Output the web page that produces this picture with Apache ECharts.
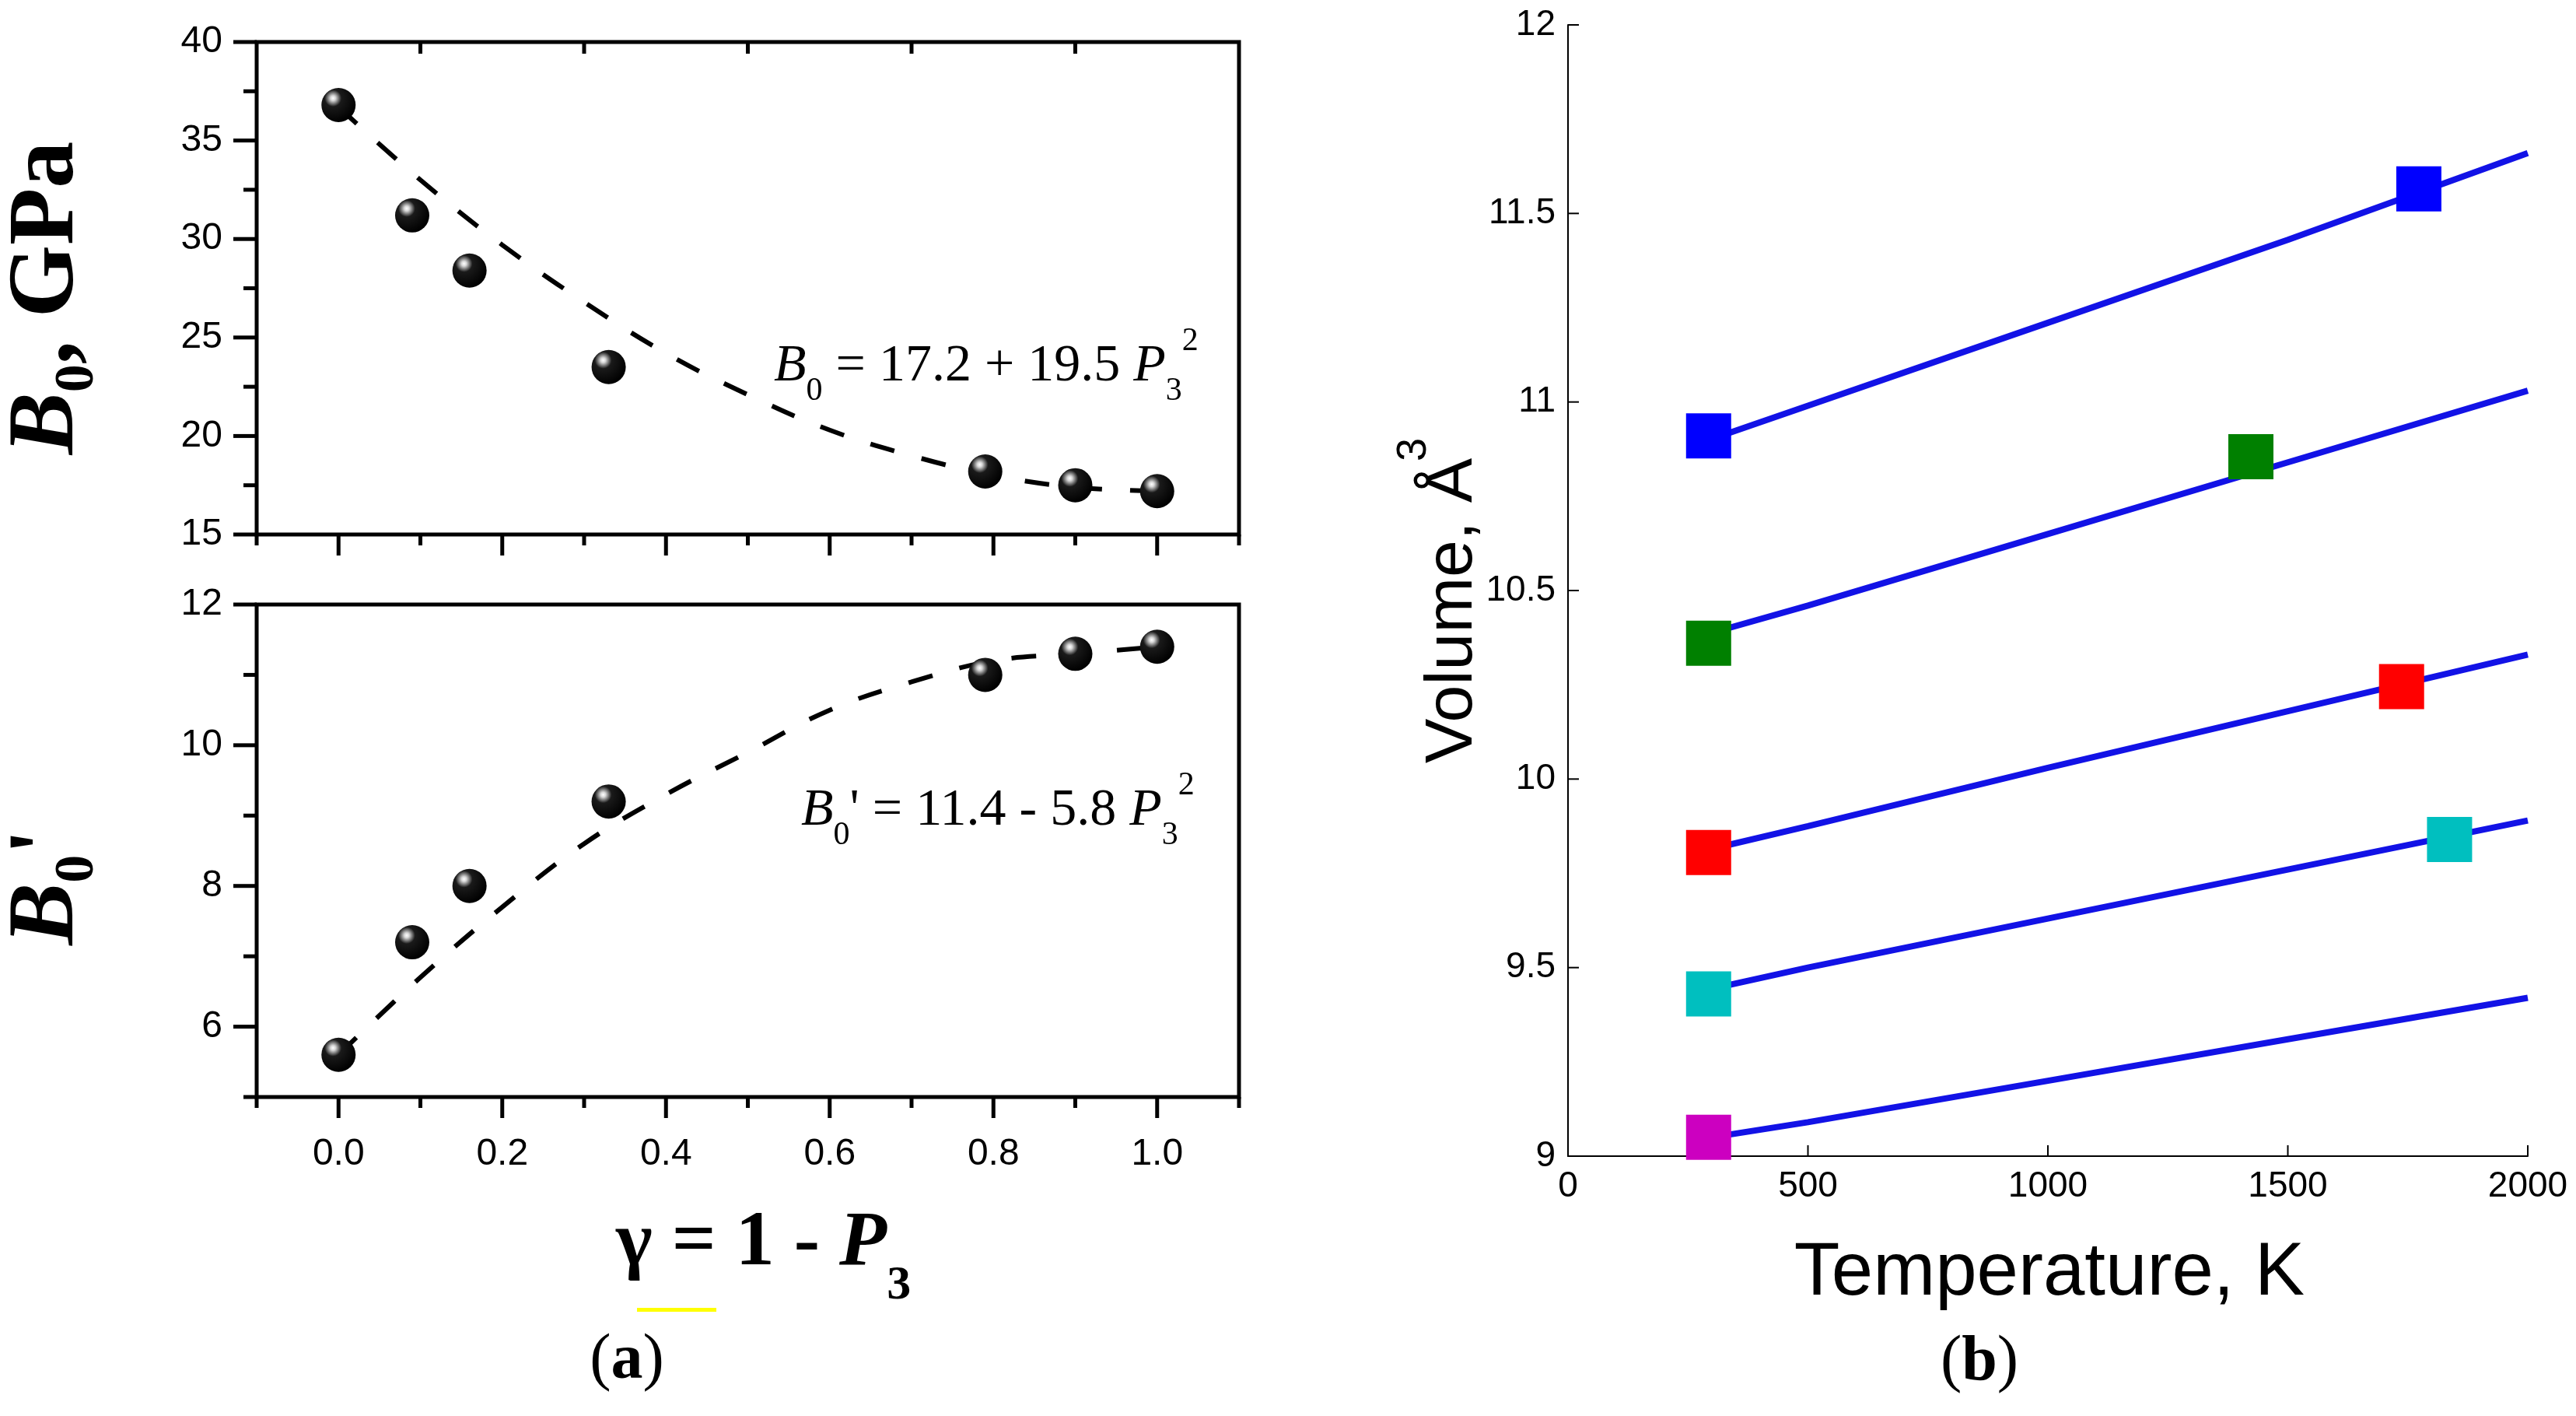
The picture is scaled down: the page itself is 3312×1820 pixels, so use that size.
<!DOCTYPE html>
<html>
<head>
<meta charset="utf-8">
<script src="https://cdn.jsdelivr.net/npm/echarts@6/dist/echarts.min.js"></script>
<style>
  html, body { margin: 0; padding: 0; background: #fff; }
  #main { width: 3312px; height: 1820px; }
</style>
</head>
<body>
<div id="main"></div>
<script>
// (a) 数据点
var gammaPts = [0, 0.09, 0.16, 0.33, 0.79, 0.90, 1.00];
var b0Pts = [36.8, 31.2, 28.4, 23.5, 18.2, 17.5, 17.2];
var b0pPts = [5.6, 7.2, 8.0, 9.2, 11.0, 11.3, 11.4];
// (a) 虚线拟合曲线
var gammaFit = [0, 0.1, 0.2, 0.3, 0.4, 0.5, 0.6, 0.7, 0.8, 0.9, 1.0];
var b0Fit = [36.7, 33.0, 29.7, 26.8, 24.2, 22.1, 20.3, 19.0, 18.0, 17.4, 17.2];
var b0pFit = [5.6, 6.7, 7.7, 8.6, 9.3, 9.9, 10.5, 10.9, 11.2, 11.3, 11.4];
// (a) 刻度值
var majorX = [0, 0.2, 0.4, 0.6, 0.8, 1.0];
var minorX = [-0.1, 0.1, 0.3, 0.5, 0.7, 0.9, 1.1];
var topInnerX = [0.1, 0.3, 0.5, 0.7, 0.9];
var majorB0 = [15, 20, 25, 30, 35, 40];
var minorB0 = [17.5, 22.5, 27.5, 32.5, 37.5];
var majorB0p = [6, 8, 10, 12];
var minorB0p = [5, 7, 9, 11];

// (b) 温度-体积曲线
var tempK = [250, 500, 1000, 1500, 2000];
var vol1 = [10.88, 10.99, 11.21, 11.43, 11.66];
var vol2 = [10.37, 10.46, 10.65, 10.84, 11.03];
var vol3 = [9.80, 9.875, 10.03, 10.18, 10.33];
var vol4 = [9.43, 9.50, 9.63, 9.76, 9.89];
var vol5 = [9.04, 9.09, 9.20, 9.31, 9.42];
// (b) 方块标记
var sqBlue = [[293, 10.91], [1773, 11.565]];
var sqGreen = [[293, 10.36], [1423, 10.855]];
var sqRed = [[293, 9.805], [1737, 10.245]];
var sqCyan = [[293, 9.43], [1837, 9.84]];
var sqMagenta = [[293, 9.05]];
// (b) 刻度值
var tempTicks = [0, 500, 1000, 1500, 2000];
var volTicks = [9, 9.5, 10, 10.5, 11, 11.5, 12];

function zip(xs, ys) {
  return xs.map(function (x, i) { return [x, ys[i]]; });
}
function atY(xs, y) { return xs.map(function (x) { return [x, y]; }); }
function atX(ys, x) { return ys.map(function (y) { return [x, y]; }); }

// 黑色小球
var sphere = new echarts.graphic.RadialGradient(0.34, 0.3, 0.72, [
  { offset: 0, color: '#ffffff' },
  { offset: 0.1, color: '#d8d8d8' },
  { offset: 0.2, color: '#888888' },
  { offset: 0.34, color: '#1a1a1a' },
  { offset: 1, color: '#000000' }
]);

// 带上下标的文字，逐段测量宽度后排布
var measureCtx = document.createElement('canvas').getContext('2d');
function mathText(x, y, rot, pieces, anchor) {
  var cx = 0;
  var kids = [];
  pieces.forEach(function (p) {
    var fam = p.fam || 'Liberation Serif';
    var font = (p.st || 'normal') + ' ' + p.s + 'px "' + fam + '"';
    measureCtx.font = font;
    var w = measureCtx.measureText(p.t).width;
    cx += (p.dx || 0);
    kids.push({
      type: 'text',
      x: cx,
      y: (p.b || 0) - 0.31 * p.s,
      style: { text: p.t, font: font, fill: '#000', align: 'left', verticalAlign: 'middle' }
    });
    cx += w;
  });
  if (anchor === 'center') {
    kids.forEach(function (k) { k.x -= cx / 2; });
  }
  return { type: 'group', x: x, y: y, rotation: rot || 0, children: kids };
}

var blk = '#000';
var tickFont = { fontFamily: 'Liberation Sans', fontSize: 48, color: blk };
var rightFont = { fontFamily: 'Liberation Sans', fontSize: 46, color: blk, margin: 16,
  formatter: function (v) { return String(v); } };

function plainAxis(gi, min, max, extra) {
  return Object.assign({
    type: 'value', gridIndex: gi, min: min, max: max,
    axisLine: { show: false, onZero: false }, axisTick: { show: false },
    axisLabel: { show: false }, splitLine: { show: false }
  }, extra || {});
}

var fitLine = { color: blk, width: 6, type: [32, 36] };
var blueLine = { color: '#1212e6', width: 8 };

function volLine(vals) {
  return { type: 'line', xAxisIndex: 2, yAxisIndex: 2, data: zip(tempK, vals), symbol: 'none', lineStyle: blueLine, z: 2 };
}
function squares(pts, color) {
  return { type: 'scatter', xAxisIndex: 2, yAxisIndex: 2, data: pts, symbol: 'rect', symbolSize: 58,
    itemStyle: { color: color, opacity: 1 }, z: 3 };
}

var frameGrid = { show: true, borderColor: blk, borderWidth: 5, backgroundColor: 'transparent' };

var labels = [
  // 左侧纵轴标题
  mathText(99, 383, Math.PI / 2, [
    { t: 'B', st: 'italic bold', s: 120 },
    { t: '0', st: 'bold', s: 72, b: 24 },
    { t: ', GPa', st: 'bold', s: 120 }
  ], 'center'),
  mathText(99, 1140, Math.PI / 2, [
    { t: 'B', st: 'italic bold', s: 120 },
    { t: '0', st: 'bold', s: 72, b: 24 },
    { t: ' \'', st: 'bold', s: 120, dx: -30 }
  ], 'center'),
  // 拟合公式
  mathText(995, 492, 0, [
    { t: 'B', st: 'italic', s: 68 },
    { t: '0', s: 42, b: 24 },
    { t: ' = 17.2 + 19.5 ', s: 68 },
    { t: 'P', st: 'italic', s: 68 },
    { t: '3', s: 42, b: 24 },
    { t: '2', s: 42, b: -40 }
  ]),
  mathText(1030, 1063, 0, [
    { t: 'B', st: 'italic', s: 68 },
    { t: '0', s: 42, b: 24 },
    { t: '\'', s: 68 },
    { t: ' = 11.4 - 5.8 ', s: 68 },
    { t: 'P', st: 'italic', s: 68 },
    { t: '3', s: 42, b: 24 },
    { t: '2', s: 42, b: -40 }
  ]),
  // 横轴标题
  mathText(792, 1630, 0, [
    { t: 'γ = 1 - ', st: 'bold', s: 100 },
    { t: 'P', st: 'italic bold', s: 100 },
    { t: '3', st: 'bold', s: 62, b: 42 }
  ]),
  { type: 'rect', shape: { x: 819, y: 1681, width: 102, height: 5 }, style: { fill: '#ffff00' } },
  mathText(806, 1775, 0, [
    { t: '(', s: 82 }, { t: 'a', st: 'bold', s: 82 }, { t: ')', s: 82 }
  ], 'center'),
  // (b) 标题
  mathText(2635, 1667, 0, [
    { t: 'Temperature, K', fam: 'Liberation Sans', s: 96 }
  ], 'center'),
  mathText(1895, 981, Math.PI / 2, [
    { t: 'Volume, Å', fam: 'Liberation Sans', s: 86 },
    { t: '3', fam: 'Liberation Sans', s: 54, b: -60, dx: -4 }
  ]),
  mathText(2545, 1777, 0, [
    { t: '(', s: 82 }, { t: 'b', st: 'bold', s: 82 }, { t: ')', s: 82 }
  ], 'center')
];

var chart = echarts.init(document.getElementById('main'));
var option = {
  animation: false,
  backgroundColor: '#fff',
  grid: [
    Object.assign({ left: 330, top: 54, width: 1263, height: 633 }, frameGrid),
    Object.assign({ left: 330, top: 777, width: 1263, height: 633 }, frameGrid),
    { left: 2016, top: 32, width: 1234, height: 1454 }
  ],
  xAxis: [
    plainAxis(0, -0.1, 1.1),
    plainAxis(1, -0.1, 1.1, {
      axisLabel: Object.assign({ show: true, customValues: majorX, margin: 50,
        formatter: function (v) { return v.toFixed(1); } }, tickFont)
    }),
    plainAxis(2, 0, 2000, {
      interval: 500,
      axisLine: { show: true, onZero: false, lineStyle: { color: blk, width: 2 } },
      axisLabel: rightFont
    })
  ],
  yAxis: [
    plainAxis(0, 15, 40, {
      interval: 5,
      axisLabel: Object.assign({ show: true, margin: 44 }, tickFont)
    }),
    plainAxis(1, 5, 12, {
      axisLabel: Object.assign({ show: true, customValues: majorB0p, margin: 44 }, tickFont)
    }),
    plainAxis(2, 9, 12, {
      interval: 0.5,
      axisLine: { show: true, onZero: false, lineStyle: { color: blk, width: 2 } },
      axisLabel: rightFont
    })
  ],
  series: [
    { type: 'line', xAxisIndex: 0, yAxisIndex: 0, data: zip(gammaFit, b0Fit), smooth: 0.4,
      showSymbol: false, symbol: 'none', lineStyle: fitLine, z: 2 },
    { type: 'scatter', xAxisIndex: 0, yAxisIndex: 0, data: zip(gammaPts, b0Pts), symbolSize: 44,
      itemStyle: { color: sphere, opacity: 1 }, z: 3 },
    { type: 'line', xAxisIndex: 1, yAxisIndex: 1, data: zip(gammaFit, b0pFit), smooth: 0.4,
      showSymbol: false, symbol: 'none', lineStyle: fitLine, z: 2 },
    { type: 'scatter', xAxisIndex: 1, yAxisIndex: 1, data: zip(gammaPts, b0pPts), symbolSize: 44,
      itemStyle: { color: sphere, opacity: 1 }, z: 3 },

    volLine(vol1), volLine(vol2), volLine(vol3), volLine(vol4), volLine(vol5),

    squares(sqBlue, '#0000ff'),
    squares(sqGreen, '#008000'),
    squares(sqRed, '#ff0000'),
    squares(sqCyan, '#00bfbf'),
    squares(sqMagenta, '#cc00c0')
  ],
  graphic: labels
};
chart.setOption(option);

// 刻度线：刻度值经坐标轴换算成像素后，画成细长矩形
var tickEls = [];
function addTicks(gi, pts, w, h, dx, dy) {
  pts.forEach(function (p) {
    var c = chart.convertToPixel({ gridIndex: gi }, p);
    if (!c || isNaN(c[0]) || isNaN(c[1])) return;
    tickEls.push({
      type: 'rect', z: 50,
      shape: { x: c[0] + dx - w / 2, y: c[1] + dy - h / 2, width: w, height: h },
      style: { fill: blk }
    });
  });
}
// 上图
addTicks(0, atY(majorX, 15), 5, 27, 0, 13.5);
addTicks(0, atY(minorX, 15), 5, 14, 0, 7);
addTicks(0, atY(topInnerX, 40), 5, 15, 0, 7.5);
addTicks(0, atX(majorB0, -0.1), 30, 5, -15, 0);
addTicks(0, atX(minorB0, -0.1), 17, 5, -8.5, 0);
// 下图
addTicks(1, atY(majorX, 5), 5, 27, 0, 13.5);
addTicks(1, atY(minorX, 5), 5, 14, 0, 7);
addTicks(1, atX(majorB0p, -0.1), 30, 5, -15, 0);
addTicks(1, atX(minorB0p, -0.1), 17, 5, -8.5, 0);
// 右图（朝内）
addTicks(2, atY(tempTicks, 9), 2, 14, 0, -7);
addTicks(2, atX(volTicks, 0), 14, 2, 7, 0);

chart.setOption({ graphic: labels.concat(tickEls) });
</script>
</body>
</html>
